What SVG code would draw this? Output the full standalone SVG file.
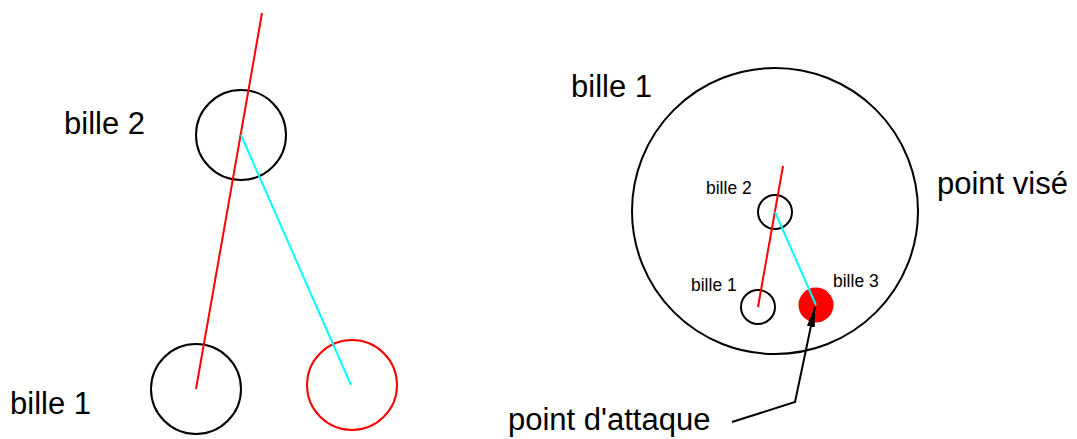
<svg xmlns="http://www.w3.org/2000/svg" width="1077" height="439" viewBox="0 0 1077 439">
<defs>
<style>
.lbl{font-family:"Liberation Sans",Arial,sans-serif;fill:#000}
.big{font-size:31px}
.sm{font-size:17.5px}
.ring{fill:none;stroke:#000;stroke-width:2}
.red{stroke:#f00;stroke-width:2;fill:none}
.cyan{stroke:#0ff;stroke-width:2;fill:none}
</style>
<marker id="ah2" viewBox="0 0 20 10" refX="20" refY="5" markerWidth="20" markerHeight="10" markerUnits="userSpaceOnUse" orient="auto">
<path d="M0,1 L20,5 L0,9 Z" fill="#000"/>
</marker>
</defs>
<g id="left-bille2"><circle class="ring" cx="241" cy="135" r="45"/><text class="lbl big" x="64" y="134">bille 2</text></g>
<g id="left-bille1"><circle class="ring" cx="196" cy="389" r="45"/><text class="lbl big" x="10" y="414">bille 1</text></g>
<g id="left-bille3"><circle class="red" cx="352" cy="385" r="45"/></g>
<g id="big-bille1"><circle class="ring" cx="775" cy="211" r="143"/><text class="lbl big" x="571" y="97">bille 1</text></g>
<g id="small-bille2"><circle class="ring" cx="775" cy="212" r="17"/><text class="lbl sm" x="706" y="194">bille 2</text></g>
<g id="small-bille1"><circle class="ring" cx="758" cy="307" r="17"/><text class="lbl sm" x="691" y="291">bille 1</text></g>
<g id="small-bille3"><circle cx="816" cy="305" r="17.5" fill="#f00"/><text class="lbl sm" x="833" y="287">bille 3</text></g>
<g id="label-point-vise"><text class="lbl big" x="937" y="194">point visé</text></g>
<g id="label-point-attaque"><text class="lbl big" x="508" y="430">point d'attaque</text></g>
<g id="connectors">
<line class="red" x1="262" y1="13" x2="196" y2="389"/>
<line class="cyan" x1="241" y1="135" x2="351" y2="385"/>
<line class="red" x1="783" y1="166" x2="758" y2="307"/>
<line class="cyan" x1="775" y1="212" x2="816" y2="305"/>
<polyline points="732,422 795,402 815,307" fill="none" stroke="#000" stroke-width="2" marker-end="url(#ah2)"/>
</g>
</svg>
